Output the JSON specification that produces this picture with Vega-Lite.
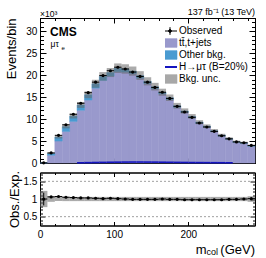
{
  "$schema": "https://vega.github.io/schema/vega-lite/v6.json",
  "background": "white",
  "padding": {"left": 5, "top": 7, "right": 5, "bottom": 0},
  "config": {
    "font": "Liberation Sans",
    "view": {"stroke": "black", "strokeWidth": 1},
    "axis": {"labelFlush": false, "labelColor": "black", "labelFontSize": 10, "labelFont": "Liberation Sans", "tickColor": "black", "tickWidth": 1, "domainColor": "black", "domainWidth": 1, "titleColor": "black", "titleFontWeight": "normal", "titleFontSize": 13, "titleFont": "Liberation Sans", "zindex": 1, "grid": false, "labelOverlap": false}
  },
  "datasets": {
    "h": [
      {"lo":0,"hi":10,"c":5,"tt":0.03,"tot":0.03,"ulo":0.023,"uhi":0.037,"d":0.03,"de":0.0055,"r":1.0,"re":0.18,"rlo":0.77,"rhi":1.23,"s":0},
      {"lo":10,"hi":20,"c":15,"tt":1.77,"tot":2.17,"ulo":2.06,"uhi":2.28,"d":2.3,"de":0.048,"r":1.06,"re":0.022,"rlo":0.92,"rhi":1.08,"s":0},
      {"lo":20,"hi":30,"c":25,"tt":4.99,"tot":5.89,"ulo":5.6,"uhi":6.18,"d":6.3,"de":0.079,"r":1.07,"re":0.013,"rlo":0.94,"rhi":1.06,"s":0},
      {"lo":30,"hi":40,"c":35,"tt":7.19,"tot":8.29,"ulo":7.88,"uhi":8.7,"d":8.7,"de":0.093,"r":1.05,"re":0.011,"rlo":0.94,"rhi":1.06,"s":0},
      {"lo":40,"hi":50,"c":45,"tt":9.47,"tot":10.67,"ulo":10.14,"uhi":11.2,"d":11.1,"de":0.105,"r":1.04,"re":0.01,"rlo":0.94,"rhi":1.06,"s":0},
      {"lo":50,"hi":60,"c":55,"tt":12.0,"tot":13.2,"ulo":12.54,"uhi":13.86,"d":13.6,"de":0.117,"r":1.03,"re":0.009,"rlo":0.94,"rhi":1.06,"s":0.05},
      {"lo":60,"hi":70,"c":65,"tt":14.33,"tot":15.53,"ulo":14.75,"uhi":16.31,"d":16.0,"de":0.126,"r":1.03,"re":0.008,"rlo":0.94,"rhi":1.06,"s":0.08},
      {"lo":70,"hi":80,"c":75,"tt":17.04,"tot":18.04,"ulo":17.14,"uhi":18.94,"d":18.4,"de":0.136,"r":1.02,"re":0.008,"rlo":0.94,"rhi":1.06,"s":0.11},
      {"lo":80,"hi":90,"c":85,"tt":18.8,"tot":19.7,"ulo":18.72,"uhi":20.69,"d":19.9,"de":0.141,"r":1.01,"re":0.007,"rlo":0.94,"rhi":1.06,"s":0.14},
      {"lo":90,"hi":100,"c":95,"tt":19.79,"tot":20.59,"ulo":19.56,"uhi":21.62,"d":21.0,"de":0.145,"r":1.02,"re":0.007,"rlo":0.94,"rhi":1.06,"s":0.17},
      {"lo":100,"hi":110,"c":105,"tt":20.78,"tot":21.58,"ulo":20.5,"uhi":22.66,"d":21.8,"de":0.148,"r":1.01,"re":0.007,"rlo":0.94,"rhi":1.06,"s":0.19},
      {"lo":110,"hi":120,"c":115,"tt":20.7,"tot":21.4,"ulo":20.33,"uhi":22.47,"d":21.4,"de":0.146,"r":1.0,"re":0.007,"rlo":0.94,"rhi":1.06,"s":0.21},
      {"lo":120,"hi":130,"c":125,"tt":20.31,"tot":20.91,"ulo":19.86,"uhi":21.96,"d":20.7,"de":0.144,"r":0.99,"re":0.007,"rlo":0.94,"rhi":1.06,"s":0.22},
      {"lo":130,"hi":140,"c":135,"tt":19.3,"tot":19.9,"ulo":18.91,"uhi":20.9,"d":19.7,"de":0.14,"r":0.99,"re":0.007,"rlo":0.94,"rhi":1.06,"s":0.22},
      {"lo":140,"hi":150,"c":145,"tt":18.09,"tot":18.59,"ulo":17.66,"uhi":19.52,"d":18.4,"de":0.136,"r":0.99,"re":0.007,"rlo":0.94,"rhi":1.06,"s":0.21},
      {"lo":150,"hi":160,"c":155,"tt":16.87,"tot":17.37,"ulo":16.5,"uhi":18.24,"d":17.2,"de":0.131,"r":0.99,"re":0.008,"rlo":0.94,"rhi":1.06,"s":0.2},
      {"lo":160,"hi":170,"c":165,"tt":15.7,"tot":16.1,"ulo":15.3,"uhi":16.91,"d":16.1,"de":0.127,"r":1.0,"re":0.008,"rlo":0.94,"rhi":1.06,"s":0.18},
      {"lo":170,"hi":180,"c":175,"tt":14.45,"tot":14.85,"ulo":14.11,"uhi":15.59,"d":14.7,"de":0.121,"r":0.99,"re":0.008,"rlo":0.94,"rhi":1.06,"s":0.16},
      {"lo":180,"hi":190,"c":185,"tt":12.68,"tot":13.03,"ulo":12.38,"uhi":13.68,"d":12.9,"de":0.114,"r":0.99,"re":0.009,"rlo":0.94,"rhi":1.06,"s":0.14},
      {"lo":190,"hi":200,"c":195,"tt":11.54,"tot":11.84,"ulo":11.25,"uhi":12.43,"d":11.6,"de":0.108,"r":0.98,"re":0.009,"rlo":0.94,"rhi":1.06,"s":0.12},
      {"lo":200,"hi":210,"c":205,"tt":10.31,"tot":10.61,"ulo":10.08,"uhi":11.14,"d":10.4,"de":0.102,"r":0.98,"re":0.01,"rlo":0.94,"rhi":1.06,"s":0.1},
      {"lo":210,"hi":220,"c":215,"tt":9.04,"tot":9.29,"ulo":8.83,"uhi":9.75,"d":9.1,"de":0.095,"r":0.98,"re":0.01,"rlo":0.94,"rhi":1.06,"s":0.09},
      {"lo":220,"hi":230,"c":225,"tt":8.17,"tot":8.37,"ulo":7.95,"uhi":8.79,"d":8.2,"de":0.091,"r":0.98,"re":0.011,"rlo":0.94,"rhi":1.06,"s":0.08},
      {"lo":230,"hi":240,"c":235,"tt":7.15,"tot":7.35,"ulo":6.98,"uhi":7.72,"d":7.2,"de":0.085,"r":0.98,"re":0.012,"rlo":0.94,"rhi":1.06,"s":0.07},
      {"lo":240,"hi":250,"c":245,"tt":6.13,"tot":6.33,"ulo":6.01,"uhi":6.65,"d":6.2,"de":0.079,"r":0.98,"re":0.012,"rlo":0.94,"rhi":1.06,"s":0.06},
      {"lo":250,"hi":260,"c":255,"tt":5.41,"tot":5.56,"ulo":5.28,"uhi":5.84,"d":5.5,"de":0.074,"r":0.99,"re":0.013,"rlo":0.94,"rhi":1.06,"s":0.05},
      {"lo":260,"hi":270,"c":265,"tt":4.7,"tot":4.85,"ulo":4.61,"uhi":5.09,"d":4.8,"de":0.069,"r":0.99,"re":0.014,"rlo":0.94,"rhi":1.06,"s":0},
      {"lo":270,"hi":280,"c":275,"tt":4.45,"tot":4.6,"ulo":4.37,"uhi":4.83,"d":4.6,"de":0.068,"r":1.0,"re":0.015,"rlo":0.94,"rhi":1.06,"s":0},
      {"lo":280,"hi":290,"c":285,"tt":3.81,"tot":3.96,"ulo":3.76,"uhi":4.16,"d":4.0,"de":0.063,"r":1.01,"re":0.016,"rlo":0.92,"rhi":1.08,"s":0}
    ]
  },
  "spacing": 9.5,
  "bounds": "flush",
  "resolve": {"scale": {"color": "independent"}, "legend": {"color": "independent"}},
  "vconcat": [
    {
      "width": 215,
      "height": 145,
      "data": {"name": "h"},
      "resolve": {"axis": {"x": "independent", "y": "independent"}},
      "layer": [
        {
          "mark": {"type": "rect", "opacity": 1, "stroke": "#9999cc", "strokeWidth": 0.5},
          "encoding": {
            "x": {"field": "lo", "type": "quantitative", "scale": {"domain": [0, 290], "nice": false, "zero": false},
                  "axis": {"orient": "bottom", "values": [0, 100, 200], "tickSize": -5, "labels": false, "domain": true, "title": null}},
            "x2": {"field": "hi"},
            "y": {"field": "tt", "type": "quantitative", "scale": {"domain": [0, 33], "nice": false},
                  "axis": {"orient": "left", "values": [0, 5, 10, 15, 20, 25, 30], "tickSize": -6, "labels": false, "domain": true, "title": null}},
            "y2": {"datum": 0},
            "color": {
              "datum": "tt\u0304,t+jets", "type": "nominal",
              "scale": {"domain": ["Observed", "tt\u0304,t+jets", "Other bkg.", "H\u2192\u03bc\u03c4 (B=20%)", "Bkg. unc."], "range": ["black", "#9999cc", "#4a9bd1", "#1515c0", "#a8a8a8"]},
              "legend": {
                "title": null, "orient": "none", "legendX": 125, "legendY": 7, "padding": 0, "offset": 0,
                "symbolSize": 196, "labelFontSize": 10, "labelColor": "black", "labelFont": "Liberation Sans", "labelOffset": 4, "clipHeight": 12, "rowPadding": 0,
                "symbolOpacity": 1,
                "encoding": {
                  "symbols": {
                    "shape": {"value": {"expr": "datum.value == 'Observed' ? 'M-1,0H1M0,-0.55V0.55M-0.2,0A0.2,0.2,0,1,0,0.2,0A0.2,0.2,0,1,0,-0.2,0Z' : (datum.value == 'Other bkg.' || datum.value == 'Bkg. unc.' || datum.value == 'tt\u0304,t+jets') ? 'M-1,-0.62H1V0.62H-1Z' : 'M-1,0H1'"}},
                    "fill": {"value": {"expr": "datum.value == 'Observed' ? 'black' : datum.value == 'Other bkg.' ? '#4a9bd1' : datum.value == 'Bkg. unc.' ? '#a8a8a8' : datum.value == 'tt\u0304,t+jets' ? '#9999cc' : 'transparent'"}},
                    "stroke": {"value": {"expr": "datum.value == 'Observed' ? 'black' : datum.value == 'Other bkg.' ? '#3a80b0' : datum.value == 'Bkg. unc.' ? '#808080' : datum.value == 'tt\u0304,t+jets' ? '#7070a8' : '#1515c0'"}},
                    "strokeWidth": {"value": {"expr": "datum.value == 'Observed' ? 1 : (datum.value == 'Other bkg.' || datum.value == 'Bkg. unc.' || datum.value == 'tt\u0304,t+jets') ? 0.6 : 2"}},
                    "opacity": {"value": 1},
                    "fillOpacity": {"value": 1},
                    "strokeOpacity": {"value": 1}
                  }
                }
              }
            }
          }
        },
        {
          "mark": {"type": "rect", "opacity": 1, "stroke": "#4a9bd1", "strokeWidth": 0.5},
          "encoding": {
            "x": {"field": "lo", "type": "quantitative", "axis": {"orient": "bottom", "values": [20, 40, 60, 80, 120, 140, 160, 180, 220, 240, 260, 280], "tickSize": -2.5, "labels": false, "domain": false, "title": null}},
            "x2": {"field": "hi"},
            "y": {"field": "tot", "type": "quantitative", "axis": {"orient": "left", "values": [1, 2, 3, 4, 6, 7, 8, 9, 11, 12, 13, 14, 16, 17, 18, 19, 21, 22, 23, 24, 26, 27, 28, 29, 31, 32, 33], "tickSize": -3.5, "labels": false, "domain": false, "title": null}},
            "y2": {"field": "tt"},
            "color": {"datum": "Other bkg.", "type": "nominal"}
          }
        },
        {
          "mark": {"type": "rect", "opacity": 0.55, "color": "#666666"},
          "encoding": {
            "x": {"field": "lo", "type": "quantitative", "axis": {"orient": "top", "values": [0, 100, 200], "tickSize": -5, "labels": false, "domain": true, "title": null}},
            "x2": {"field": "hi"},
            "y": {"field": "uhi", "type": "quantitative", "axis": {"orient": "right", "values": [0, 5, 10, 15, 20, 25, 30], "tickSize": -6, "labels": false, "domain": true, "title": null}},
            "y2": {"field": "ulo"}
          }
        },
        {
          "transform": [{"filter": "datum.s > 0"}],
          "mark": {"type": "rule", "strokeWidth": 1.6, "opacity": 1},
          "encoding": {
            "x": {"field": "lo", "type": "quantitative", "axis": {"orient": "top", "values": [20, 40, 60, 80, 120, 140, 160, 180, 220, 240, 260, 280], "tickSize": -2.5, "labels": false, "domain": false, "title": null}},
            "x2": {"field": "hi"},
            "y": {"field": "s", "type": "quantitative", "axis": {"orient": "right", "values": [1, 2, 3, 4, 6, 7, 8, 9, 11, 12, 13, 14, 16, 17, 18, 19, 21, 22, 23, 24, 26, 27, 28, 29, 31, 32, 33], "tickSize": -3.5, "labels": false, "domain": false, "title": null}},
            "color": {"datum": "H\u2192\u03bc\u03c4 (B=20%)", "type": "nominal"}
          }
        },
        {
          "mark": {"type": "rule", "color": "black", "strokeWidth": 1, "opacity": 1},
          "encoding": {
            "x": {"field": "lo", "type": "quantitative", "axis": null},
            "x2": {"field": "hi"},
            "y": {"field": "d", "type": "quantitative", "axis": {"orient": "left", "values": [0, 5, 10, 15, 20, 25, 30], "ticks": false, "domain": false, "labelPadding": 3.2, "format": "d", "title": "Events/bin", "titleAnchor": "end", "titlePadding": 7}}
          }
        },
        {
          "mark": {"type": "errorbar", "color": "black"},
          "encoding": {
            "x": {"field": "c", "type": "quantitative", "axis": null},
            "y": {"field": "d", "type": "quantitative", "axis": null},
            "yError": {"field": "de"}
          }
        },
        {
          "mark": {"type": "circle", "size": 10, "opacity": 1},
          "encoding": {
            "x": {"field": "c", "type": "quantitative", "axis": null},
            "y": {"field": "d", "type": "quantitative", "axis": null},
            "color": {"datum": "Observed", "type": "nominal"}
          }
        },
        {
          "data": {"values": [{}]},
          "mark": {"type": "text", "text": "137 fb\u207b\u00b9 (13 TeV)", "fontSize": 9, "align": "right", "baseline": "alphabetic", "dy": -3, "color": "black"},
          "encoding": {"x": {"datum": 290, "type": "quantitative", "axis": null}, "y": {"datum": 33, "type": "quantitative", "axis": null}}
        },
        {
          "data": {"values": [{}]},
          "mark": {"type": "text", "text": "\u00d710\u00b3", "fontSize": 8.5, "align": "left", "baseline": "alphabetic", "dy": -1.5, "color": "black"},
          "encoding": {"x": {"datum": 0, "type": "quantitative", "axis": null}, "y": {"datum": 33, "type": "quantitative", "axis": null}}
        },
        {
          "data": {"values": [{}]},
          "mark": {"type": "text", "text": "CMS", "fontSize": 12, "fontWeight": "bold", "align": "left", "baseline": "alphabetic", "dx": 10, "dy": 18, "color": "black"},
          "encoding": {"x": {"datum": 0, "type": "quantitative", "axis": null}, "y": {"datum": 33, "type": "quantitative", "axis": null}}
        },
        {
          "data": {"values": [{}]},
          "mark": {"type": "text", "text": "\u03bc\u03c4", "fontSize": 8.5, "align": "left", "baseline": "alphabetic", "dx": 10.5, "dy": 28.5, "color": "black"},
          "encoding": {"x": {"datum": 0, "type": "quantitative", "axis": null}, "y": {"datum": 33, "type": "quantitative", "axis": null}}
        },
        {
          "data": {"values": [{}]},
          "mark": {"type": "text", "text": "e", "fontSize": 6, "align": "left", "baseline": "alphabetic", "dx": 21.5, "dy": 31.5, "color": "black"},
          "encoding": {"x": {"datum": 0, "type": "quantitative", "axis": null}, "y": {"datum": 33, "type": "quantitative", "axis": null}}
        }
      ]
    },
    {
      "width": 215,
      "height": 53,
      "data": {"name": "h"},
      "resolve": {"axis": {"x": "independent", "y": "independent"}},
      "layer": [
        {
          "mark": {"type": "rect", "color": "#666666", "opacity": 0.55},
          "encoding": {
            "x": {"field": "lo", "type": "quantitative", "scale": {"domain": [0, 290], "nice": false, "zero": false},
                  "axis": {"orient": "bottom", "values": [0, 100, 200], "tickSize": -4, "labels": false, "domain": true, "title": null}},
            "x2": {"field": "hi"},
            "y": {"field": "rhi", "type": "quantitative", "scale": {"domain": [0.25, 1.75], "nice": false, "zero": false},
                  "axis": {"orient": "left", "values": [0.5, 1, 1.5], "tickSize": -5, "labels": false, "domain": true, "title": null}},
            "y2": {"field": "rlo"}
          }
        },
        {
          "data": {"values": [{}]},
          "mark": {"type": "rule", "color": "#888888", "strokeDash": [2, 2], "strokeWidth": 0.8},
          "encoding": {
            "x": {"datum": 0, "type": "quantitative", "axis": {"orient": "bottom", "values": [20, 40, 60, 80, 120, 140, 160, 180, 220, 240, 260, 280], "tickSize": -2, "labels": false, "domain": false, "title": null}},
            "x2": {"datum": 290},
            "y": {"datum": 0.5, "type": "quantitative", "axis": {"orient": "left", "values": [0.3, 0.4, 0.6, 0.7, 0.8, 0.9, 1.1, 1.2, 1.3, 1.4, 1.6, 1.7], "tickSize": -2.5, "labels": false, "domain": false, "title": null}}
          }
        },
        {
          "data": {"values": [{}]},
          "mark": {"type": "rule", "color": "#888888", "strokeDash": [2, 2], "strokeWidth": 0.8},
          "encoding": {
            "x": {"datum": 0, "type": "quantitative", "axis": {"orient": "top", "values": [20, 40, 60, 80, 120, 140, 160, 180, 220, 240, 260, 280], "tickSize": -2, "labels": false, "domain": false, "title": null}},
            "x2": {"datum": 290},
            "y": {"datum": 1.5, "type": "quantitative", "axis": {"orient": "right", "values": [0.3, 0.4, 0.6, 0.7, 0.8, 0.9, 1.1, 1.2, 1.3, 1.4, 1.6, 1.7], "tickSize": -2.5, "labels": false, "domain": false, "title": null}}
          }
        },
        {
          "mark": {"type": "rule", "color": "black", "strokeWidth": 1},
          "encoding": {
            "x": {"field": "lo", "type": "quantitative", "axis": {"orient": "top", "values": [0, 100, 200], "tickSize": -4, "labels": false, "domain": true, "title": null}},
            "x2": {"field": "hi"},
            "y": {"field": "r", "type": "quantitative", "axis": {"orient": "right", "values": [0.5, 1, 1.5], "tickSize": -5, "labels": false, "domain": true, "title": null}}
          }
        },
        {
          "mark": {"type": "errorbar", "color": "black"},
          "encoding": {
            "x": {"field": "c", "type": "quantitative", "axis": null},
            "y": {"field": "r", "type": "quantitative", "axis": null},
            "yError": {"field": "re"}
          }
        },
        {
          "mark": {"type": "circle", "size": 10, "opacity": 1, "color": "black"},
          "encoding": {
            "x": {"field": "c", "type": "quantitative", "axis": {"orient": "bottom", "values": [0, 100, 200], "ticks": false, "domain": false, "labelPadding": 4, "format": "d", "title": null}},
            "y": {"field": "r", "type": "quantitative", "axis": {"orient": "left", "values": [0.5, 1, 1.5], "ticks": false, "domain": false, "labelPadding": 3.2, "format": "~g", "title": "Obs./Exp.", "titlePadding": 1}}
          }
        },
        {
          "data": {"values": [{}]},
          "mark": {"type": "text", "text": "(GeV)", "fontSize": 13, "align": "right", "baseline": "alphabetic", "dy": 28, "color": "black"},
          "encoding": {"x": {"datum": 290, "type": "quantitative", "axis": null}, "y": {"datum": 0.25, "type": "quantitative", "axis": null}}
        },
        {
          "data": {"values": [{}]},
          "mark": {"type": "text", "text": "col", "fontSize": 9, "align": "right", "baseline": "alphabetic", "dx": -37, "dy": 29.5, "color": "black"},
          "encoding": {"x": {"datum": 290, "type": "quantitative", "axis": null}, "y": {"datum": 0.25, "type": "quantitative", "axis": null}}
        },
        {
          "data": {"values": [{}]},
          "mark": {"type": "text", "text": "m", "fontSize": 13, "align": "right", "baseline": "alphabetic", "dx": -48.5, "dy": 28, "color": "black"},
          "encoding": {"x": {"datum": 290, "type": "quantitative", "axis": null}, "y": {"datum": 0.25, "type": "quantitative", "axis": null}}
        }
      ]
    }
  ]
}
